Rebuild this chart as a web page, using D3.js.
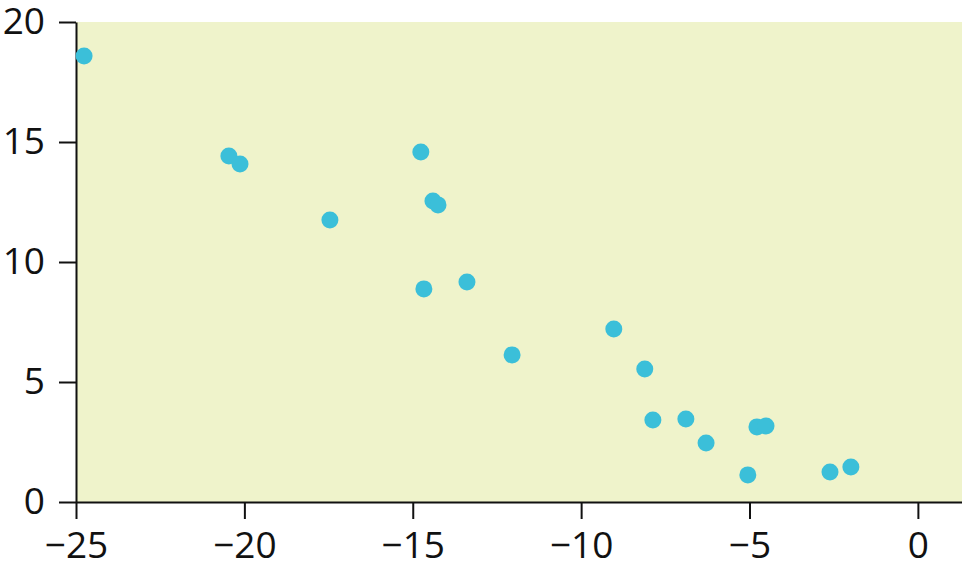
<!DOCTYPE html>
<html>
<head>
<meta charset="utf-8">
<script src="https://cdn.jsdelivr.net/npm/d3@7"></script>
<style>
  body { margin: 0; background: #fff; }
  svg text { font-family: "Open Sans", "Noto Sans", sans-serif; }
</style>
</head>
<body>
<div id="chart"></div>
<script>
'use strict';

// values
const xValues = [-24.76, -20.46, -20.13, -17.46, -14.76, -14.4, -14.25, -14.67, -13.39, -12.05,
                 -9.03, -8.11, -7.87, -6.89, -6.29, -5.05, -4.78, -4.51, -2.61, -1.99];
const yValues = [18.58, 14.42, 14.08, 11.75, 14.58, 12.54, 12.38, 8.88, 9.17, 6.13,
                 7.21, 5.54, 3.42, 3.46, 2.46, 1.13, 3.13, 3.17, 1.25, 1.46];
const xTicks = [-25, -20, -15, -10, -5, 0];
const yTicks = [0, 5, 10, 15, 20];

const width = 962, height = 577;
const margin = {top: 22, right: 0, bottom: 75, left: 76};

let svg = d3.select('#chart').append('svg')
    .attr('width', width)
    .attr('height', height);

let x = d3.scaleLinear()
    .domain([-25, 1.31])
    .range([margin.left, width - margin.right]);
let y = d3.scaleLinear()
    .domain([0, 20])
    .range([height - margin.bottom, margin.top]);

// plot background
svg.append('rect')
    .attr('x', x(-25))
    .attr('y', y(20))
    .attr('width', x(1.31) - x(-25))
    .attr('height', y(0) - y(20))
    .attr('fill', '#eff3cb');

let fmt = d => d < 0 ? '\u2212' + Math.abs(d) : String(d);

let xAxis = svg.append('g')
    .attr('transform', `translate(0,${y(0)})`)
    .call(d3.axisBottom(x).tickValues(xTicks).tickFormat(fmt).tickSize(17).tickSizeOuter(0).tickPadding(13));
let yAxis = svg.append('g')
    .attr('transform', `translate(${x(-25)},0)`)
    .call(d3.axisLeft(y).tickValues(yTicks).tickFormat(fmt).tickSize(17).tickSizeOuter(0).tickPadding(14));

[xAxis, yAxis].forEach(function(g) {
    g.selectAll('path.domain').attr('stroke', '#111').attr('stroke-width', 2);
    g.selectAll('.tick line').attr('stroke', '#111').attr('stroke-width', 2);
    g.selectAll('.tick text').attr('font-size', 37).attr('fill', '#111')
        .attr('font-family', '"Open Sans", "Noto Sans", sans-serif');
});

svg.append('g')
    .selectAll('circle')
    .data(xValues.map((v, i) => ({x: v, y: yValues[i]})))
    .join('circle')
    .attr('cx', d => x(d.x))
    .attr('cy', d => y(d.y))
    .attr('r', 8.5)
    .attr('fill', '#3bbfd9');
</script>
</body>
</html>
